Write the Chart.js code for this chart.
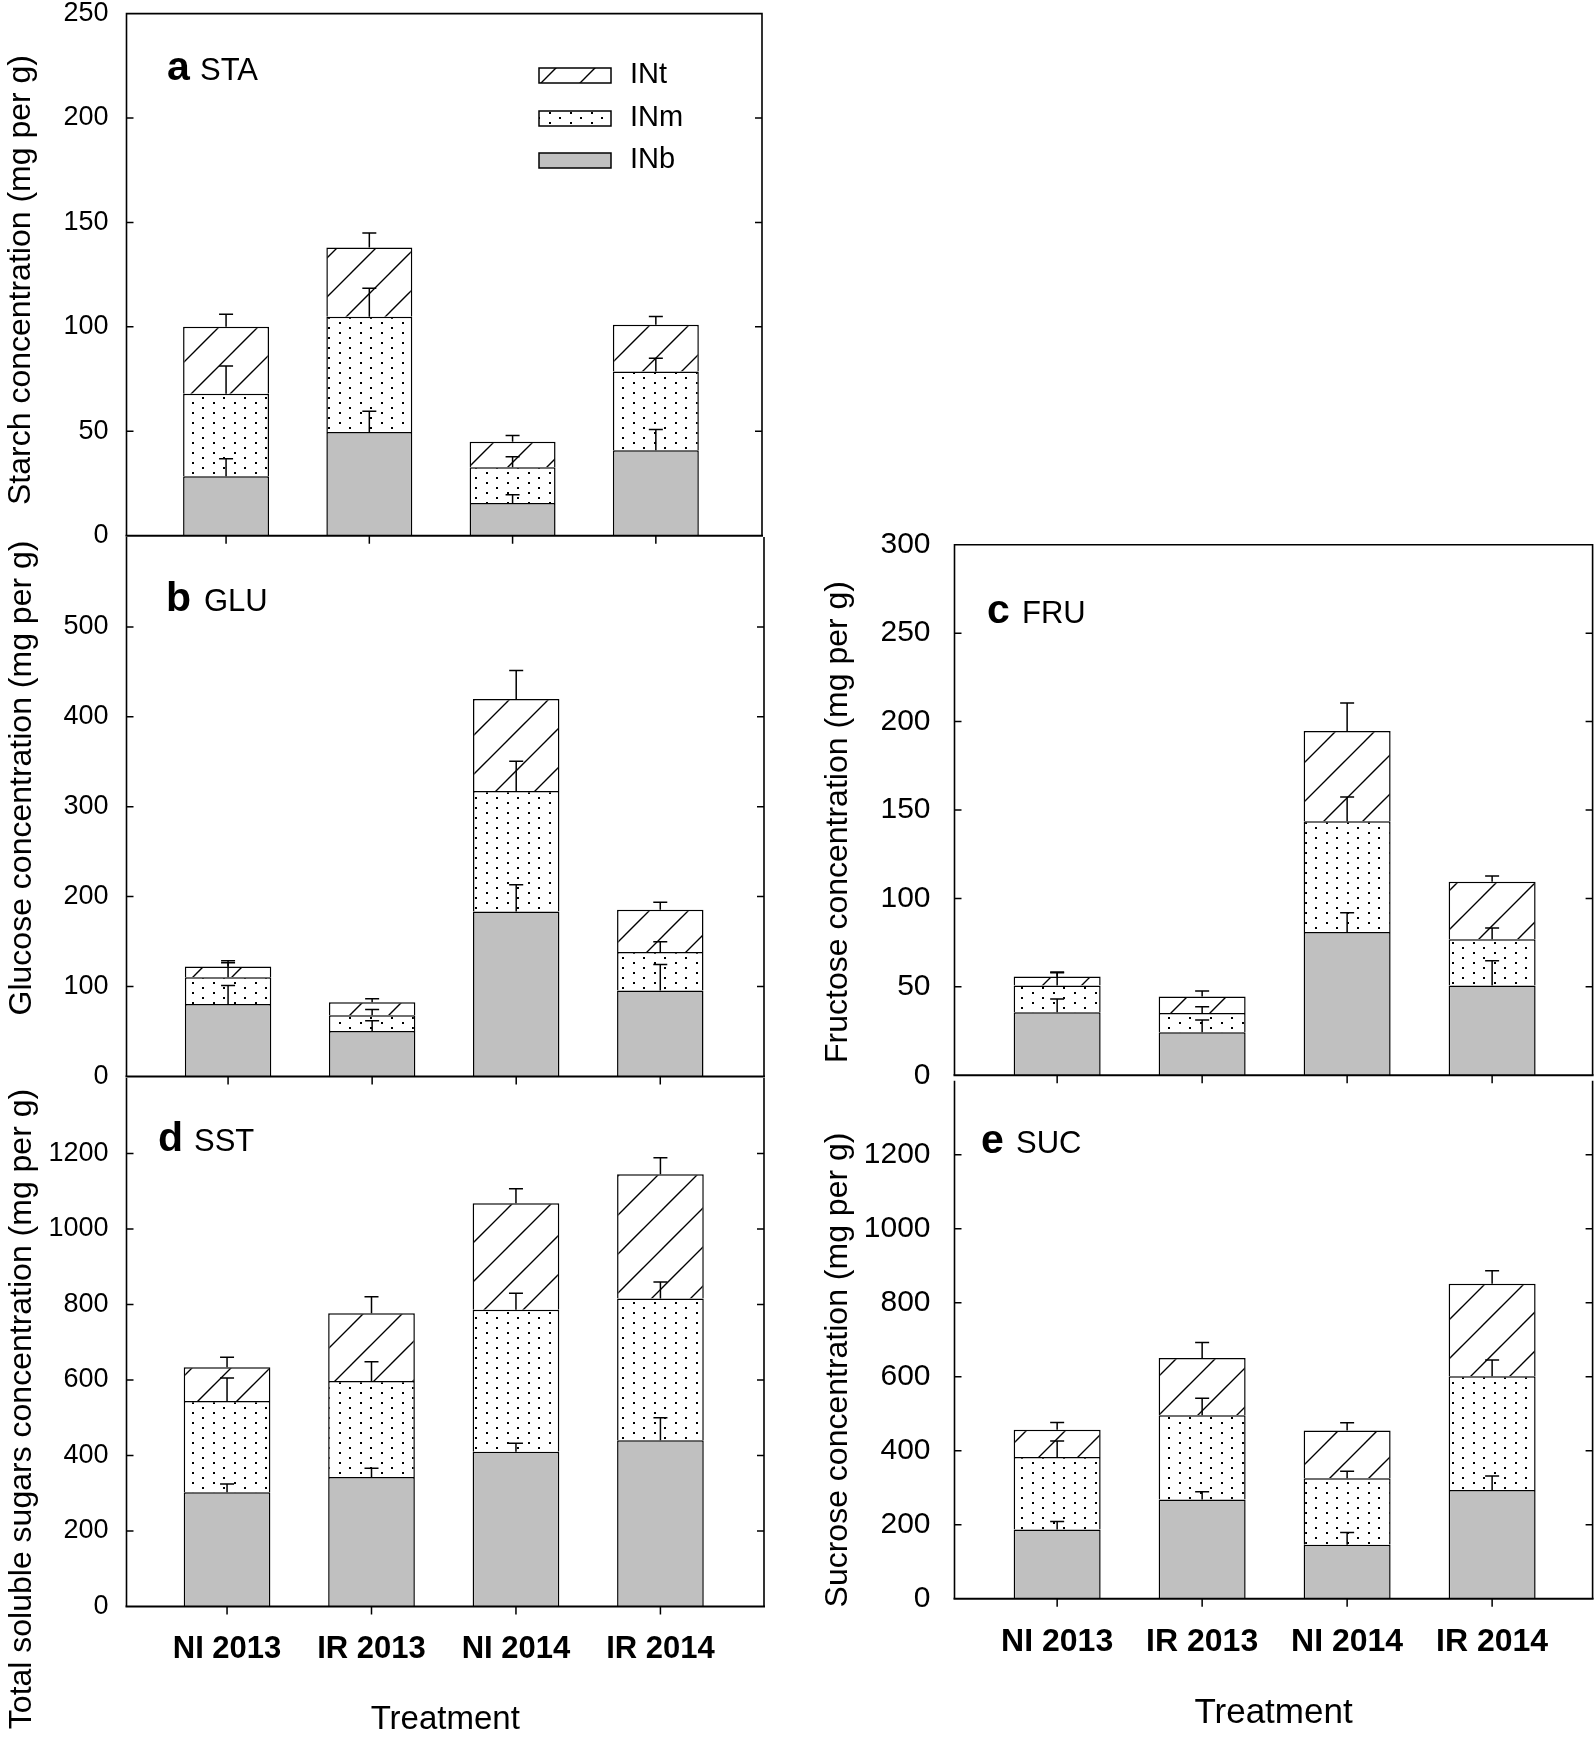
<!DOCTYPE html>
<html>
<head>
<meta charset="utf-8">
<title>Internode carbohydrate concentrations</title>
<script src="https://cdn.jsdelivr.net/npm/chart.js@4.4.1/dist/chart.umd.min.js"></script>
<style>
  html, body { margin: 0; padding: 0; background: #ffffff; }
  #figure { position: relative; width: 1594px; height: 1741px; overflow: hidden; background: #ffffff; }
  #figure canvas { position: absolute; left: 0; top: 0; }
</style>
</head>
<body>
<div id="figure"></div>
<script>
// ---------------- DATA ----------------
const categories = ['NI 2013', 'IR 2013', 'NI 2014', 'IR 2014'];
const layerNames = ['INb', 'INm', 'INt'];

// a  STA – starch
const staTicks  = [0, 50, 100, 150, 200, 250];
const staINb    = [28.5, 49.6, 15.6, 40.9];
const staINm    = [39.5, 55.2, 17.2, 37.7];
const staINt    = [32.0, 33.2, 12.2, 22.4];
const staErrINb = [8.4, 10.0, 4.0, 10.0];
const staErrINm = [13.2, 13.7, 5.0, 6.4];
const staErrINt = [6.0, 7.0, 3.0, 4.0];

// b  GLU – glucose
const gluTicks  = [0, 100, 200, 300, 400, 500, 600];
const gluINb    = [80.5, 50.6, 183.3, 95.5];
const gluINm    = [29.9, 17.4, 134.3, 42.8];
const gluINt    = [11.8, 14.5, 102.3, 47.0];
const gluErrINb = [20.6, 11.3, 30.0, 29.0];
const gluErrINm = [16.0, 6.4, 33.0, 11.4];
const gluErrINt = [6.4, 4.0, 31.6, 8.5];

// c  FRU – fructose
const fruTicks  = [0, 50, 100, 150, 200, 250, 300];
const fruINb    = [35.6, 24.3, 81.0, 50.8];
const fruINm    = [15.2, 10.9, 62.7, 26.1];
const fruINt    = [5.1, 9.4, 51.0, 32.5];
const fruErrINb = [7.6, 7.0, 10.9, 14.0];
const fruErrINm = [7.2, 3.5, 13.6, 6.4];
const fruErrINt = [2.5, 3.1, 15.8, 3.3];

// d  SST – total soluble sugars
const sstTicks  = [0, 200, 400, 600, 800, 1000, 1200, 1400];
const sstINb    = [302.6, 342.9, 409.7, 440.7];
const sstINm    = [241.7, 254.3, 376.3, 375.2];
const sstINt    = [89.7, 179.6, 281.9, 329.1];
const sstErrINb = [22, 23, 23, 59];
const sstErrINm = [61, 51, 44, 44];
const sstErrINt = [26.5, 44, 39, 44];

// e  SUC – sucrose
const sucTicks  = [0, 200, 400, 600, 800, 1000, 1200, 1400];
const sucINb    = [186.7, 267.8, 145.6, 293.6];
const sucINm    = [196.2, 227.8, 179.7, 307.7];
const sucINt    = [74.0, 155.0, 129.2, 250.1];
const sucErrINb = [22, 21, 33, 38];
const sucErrINm = [43, 46, 19, 43.5];
const sucErrINt = [19, 42, 21, 35];

// ---------------- LAYOUT / STYLE ----------------
const PAGE_W = 1594, PAGE_H = 1741;
const FAMILY = '"Liberation Sans", Arial, Helvetica, sans-serif';
const Y_AXIS_W = 100;
Chart.defaults.font.family = FAMILY;
Chart.defaults.color = '#000';

function hatchPattern() {
  const s = 39;
  const c = document.createElement('canvas');
  c.width = s; c.height = s;
  const g = c.getContext('2d');
  g.fillStyle = '#ffffff';
  g.fillRect(0, 0, s, s);
  g.strokeStyle = '#000';
  g.lineWidth = 1.4;
  g.beginPath();
  g.moveTo(-3, s + 3); g.lineTo(s + 3, -3);
  g.moveTo(-3, 3); g.lineTo(3, -3);
  g.moveTo(s - 3, s + 3); g.lineTo(s + 3, s - 3);
  g.stroke();
  return g.createPattern(c, 'repeat');
}
function dotPattern() {
  const c = document.createElement('canvas');
  c.width = 21; c.height = 10;
  const g = c.getContext('2d');
  g.fillStyle = '#ffffff';
  g.fillRect(0, 0, 21, 10);
  g.fillStyle = '#000';
  g.fillRect(3, 2, 2, 2);
  g.fillRect(13, 7, 2, 2);
  return g.createPattern(c, 'repeat');
}
const layerFills = ['#c0c0c0', dotPattern(), hatchPattern()];

const panels = [
  { letter: 'a', name: 'STA', yTitle: 'Starch concentration (mg per g)',
    ticks: staTicks, layers: [staINb, staINm, staINt], errs: [staErrINb, staErrINm, staErrINt],
    box: { l: 126.5, r: 762, t: 13.6, b: 535.7 }, xRange: [0.305, 4.741],
    topLine: true, hideTop: false, xLabels: false, tickSize: 27, tickPad: 18,
    letterPos: [167, 80], wordX: 200, yTitlePos: [29.5, 280], legend: true },
  { letter: 'b', name: 'GLU', yTitle: 'Glucose concentration (mg per g)',
    ticks: gluTicks, layers: [gluINb, gluINm, gluINt], errs: [gluErrINb, gluErrINm, gluErrINt],
    box: { l: 126.5, r: 764, t: 537, b: 1076.4 }, xRange: [0.295, 4.72],
    topLine: false, hideTop: true, xLabels: false, tickSize: 27, tickPad: 18,
    letterPos: [166, 611], wordX: 204, yTitlePos: [31, 778], legend: false },
  { letter: 'c', name: 'FRU', yTitle: 'Fructose concentration (mg per g)',
    ticks: fruTicks, layers: [fruINb, fruINm, fruINt], errs: [fruErrINb, fruErrINm, fruErrINt],
    box: { l: 954.5, r: 1592.6, t: 544.7, b: 1075.3 }, xRange: [0.292, 4.693],
    topLine: true, hideTop: false, xLabels: false, tickSize: 30, tickPad: 24,
    letterPos: [987, 623], wordX: 1022, yTitlePos: [847, 822], legend: false },
  { letter: 'd', name: 'SST', yTitle: 'Total soluble sugars concentration (mg per g)',
    ticks: sstTicks, layers: [sstINb, sstINm, sstINt], errs: [sstErrINb, sstErrINm, sstErrINt],
    box: { l: 126.5, r: 764, t: 1078, b: 1606.5 }, xRange: [0.304, 4.717],
    topLine: false, hideTop: true, xLabels: true, xFont: 31, xPad: 24, xTitleSize: 33, xTitlePad: 1,
    tickSize: 27, tickPad: 18,
    letterPos: [158, 1151], wordX: 194, yTitlePos: [31, 1409], legend: false },
  { letter: 'e', name: 'SUC', yTitle: 'Sucrose concentration (mg per g)',
    ticks: sucTicks, layers: [sucINb, sucINm, sucINt], errs: [sucErrINb, sucErrINm, sucErrINt],
    box: { l: 954.5, r: 1592.6, t: 1080.7, b: 1598.7 }, xRange: [0.292, 4.693],
    topLine: false, hideTop: true, xLabels: true, xFont: 32, xPad: 24, xTitleSize: 35, xTitlePad: 6.5,
    tickSize: 30, tickPad: 24,
    letterPos: [981, 1153], wordX: 1016, yTitlePos: [847, 1370], legend: false }
];

// ---------------- DRAW HELPERS ----------------
function drawErrorBars(chart, p) {
  const ctx = chart.ctx, y = chart.scales.y;
  ctx.save();
  ctx.strokeStyle = '#000';
  ctx.lineWidth = 1.5;
  const cum = categories.map(() => 0);
  p.layers.forEach((layer, li) => {
    const meta = chart.getDatasetMeta(li);
    layer.forEach((v, j) => {
      cum[j] += v;
      const el = meta.data[j];
      const x0 = el.x;
      const yTop = y.getPixelForValue(cum[j]);
      const yErr = y.getPixelForValue(cum[j] + p.errs[li][j]);
      ctx.beginPath();
      ctx.moveTo(x0, yTop); ctx.lineTo(x0, yErr);
      ctx.moveTo(x0 - 7, yErr); ctx.lineTo(x0 + 7, yErr);
      ctx.stroke();
    });
  });
  ctx.restore();
}

function drawFrame(chart, p) {
  const { ctx, chartArea: a, scales: { x, y } } = chart;
  ctx.save();
  ctx.strokeStyle = '#000';
  ctx.lineWidth = 1.6;
  ctx.beginPath();
  ctx.moveTo(a.left, a.top); ctx.lineTo(a.left, a.bottom);
  ctx.moveTo(a.right, a.top); ctx.lineTo(a.right, a.bottom);
  if (p.topLine) { ctx.moveTo(a.left - 0.8, a.top); ctx.lineTo(a.right + 0.8, a.top); }
  ctx.stroke();
  ctx.lineWidth = 2;
  ctx.beginPath();
  ctx.moveTo(a.left - 1, a.bottom); ctx.lineTo(a.right + 1, a.bottom);
  ctx.stroke();
  ctx.lineWidth = 1.5;
  ctx.beginPath();
  y.ticks.forEach(t => {
    if (t.value === y.min || t.value === y.max) return;
    const py = y.getPixelForValue(t.value);
    ctx.moveTo(a.left, py); ctx.lineTo(a.left + 7, py);
    ctx.moveTo(a.right, py); ctx.lineTo(a.right - 7, py);
  });
  x.ticks.forEach(t => {
    const px = x.getPixelForValue(t.value);
    ctx.moveTo(px, a.bottom); ctx.lineTo(px, a.bottom + 8);
  });
  ctx.stroke();
  ctx.restore();
}

function drawTexts(chart, p) {
  const ctx = chart.ctx;
  ctx.save();
  ctx.fillStyle = '#000';
  ctx.textAlign = 'left';
  ctx.textBaseline = 'alphabetic';
  ctx.font = 'bold 41px ' + FAMILY;
  ctx.fillText(p.letter, p.letterPos[0], p.letterPos[1]);
  ctx.font = '31px ' + FAMILY;
  ctx.fillText(p.name, p.wordX, p.letterPos[1]);
  ctx.restore();

  ctx.save();
  ctx.fillStyle = '#000';
  ctx.translate(p.yTitlePos[0], p.yTitlePos[1]);
  ctx.rotate(-Math.PI / 2);
  ctx.font = '32px ' + FAMILY;
  ctx.textAlign = 'center';
  ctx.textBaseline = 'alphabetic';
  ctx.fillText(p.yTitle, 0, 0);
  ctx.restore();
}

function drawLegend(chart) {
  const ctx = chart.ctx;
  const order = [2, 1, 0];
  const tops = [68, 111, 153];
  ctx.save();
  order.forEach((di, k) => {
    const ds = chart.data.datasets[di];
    ctx.fillStyle = ds.backgroundColor;
    ctx.fillRect(539, tops[k], 72, 15);
    ctx.strokeStyle = '#000';
    ctx.lineWidth = 1.5;
    ctx.strokeRect(539, tops[k], 72, 15);
    ctx.fillStyle = '#000';
    ctx.font = '29px ' + FAMILY;
    ctx.textAlign = 'left';
    ctx.textBaseline = 'alphabetic';
    ctx.fillText(ds.label, 630, tops[k] + 15);
  });
  ctx.restore();
}

// ---------------- BUILD CHARTS ----------------
const figure = document.getElementById('figure');
panels.forEach(p => {
  const canvas = document.createElement('canvas');
  canvas.width = PAGE_W; canvas.height = PAGE_H;
  canvas.style.width = PAGE_W + 'px'; canvas.style.height = PAGE_H + 'px';
  figure.appendChild(canvas);

  const xH = p.xLabels ? PAGE_H - p.box.b : 10;
  const yMin = p.ticks[0], yMax = p.ticks[p.ticks.length - 1];

  const datasets = layerNames.map((name, li) => ({
    label: name,
    data: p.layers[li].map((v, j) => ({ x: j + 1, y: v })),
    backgroundColor: layerFills[li],
    borderColor: '#000',
    borderWidth: 1.5,
    barPercentage: 0.6,
    categoryPercentage: 1.0
  }));

  new Chart(canvas, {
    type: 'bar',
    data: { datasets },
    options: {
      responsive: false,
      devicePixelRatio: 1,
      animation: false,
      events: [],
      layout: {
        autoPadding: false,
        padding: {
          left: p.box.l - Y_AXIS_W,
          right: PAGE_W - p.box.r,
          top: p.box.t,
          bottom: PAGE_H - p.box.b - xH
        }
      },
      plugins: { legend: { display: false }, tooltip: { enabled: false }, title: { display: false } },
      scales: {
        x: {
          type: 'linear',
          stacked: true,
          offset: false,
          min: p.xRange[0],
          max: p.xRange[1],
          grid: { display: false, drawTicks: false },
          border: { display: false },
          afterBuildTicks: s => { s.ticks = categories.map((c, i) => ({ value: i + 1 })); },
          afterFit: s => { s.height = xH; },
          ticks: {
            display: p.xLabels,
            autoSkip: false,
            maxRotation: 0,
            minRotation: 0,
            padding: p.xPad || 0,
            font: { size: p.xFont || 30, weight: 'bold' },
            color: '#000',
            callback: v => categories[Math.round(v) - 1]
          },
          title: {
            display: p.xLabels,
            text: 'Treatment',
            color: '#000',
            font: { size: p.xTitleSize || 33 },
            padding: { top: 0, bottom: p.xTitlePad || 0 }
          }
        },
        y: {
          type: 'linear',
          stacked: true,
          min: yMin,
          max: yMax,
          grid: { display: false, drawTicks: true, tickLength: p.tickPad },
          border: { display: false },
          afterBuildTicks: s => { s.ticks = p.ticks.map(v => ({ value: v })); },
          afterFit: s => { s.width = Y_AXIS_W; },
          ticks: {
            padding: 0,
            font: { size: p.tickSize, lineHeight: 0.8 },
            color: '#000',
            callback: v => (p.hideTop && v === yMax) ? '' : String(v)
          }
        }
      }
    },
    plugins: [{
      id: 'decor_' + p.letter,
      afterDatasetsDraw(chart) { drawErrorBars(chart, p); },
      afterDraw(chart) {
        drawFrame(chart, p);
        drawTexts(chart, p);
        if (p.legend) drawLegend(chart);
      }
    }]
  });
});
</script>
</body>
</html>
